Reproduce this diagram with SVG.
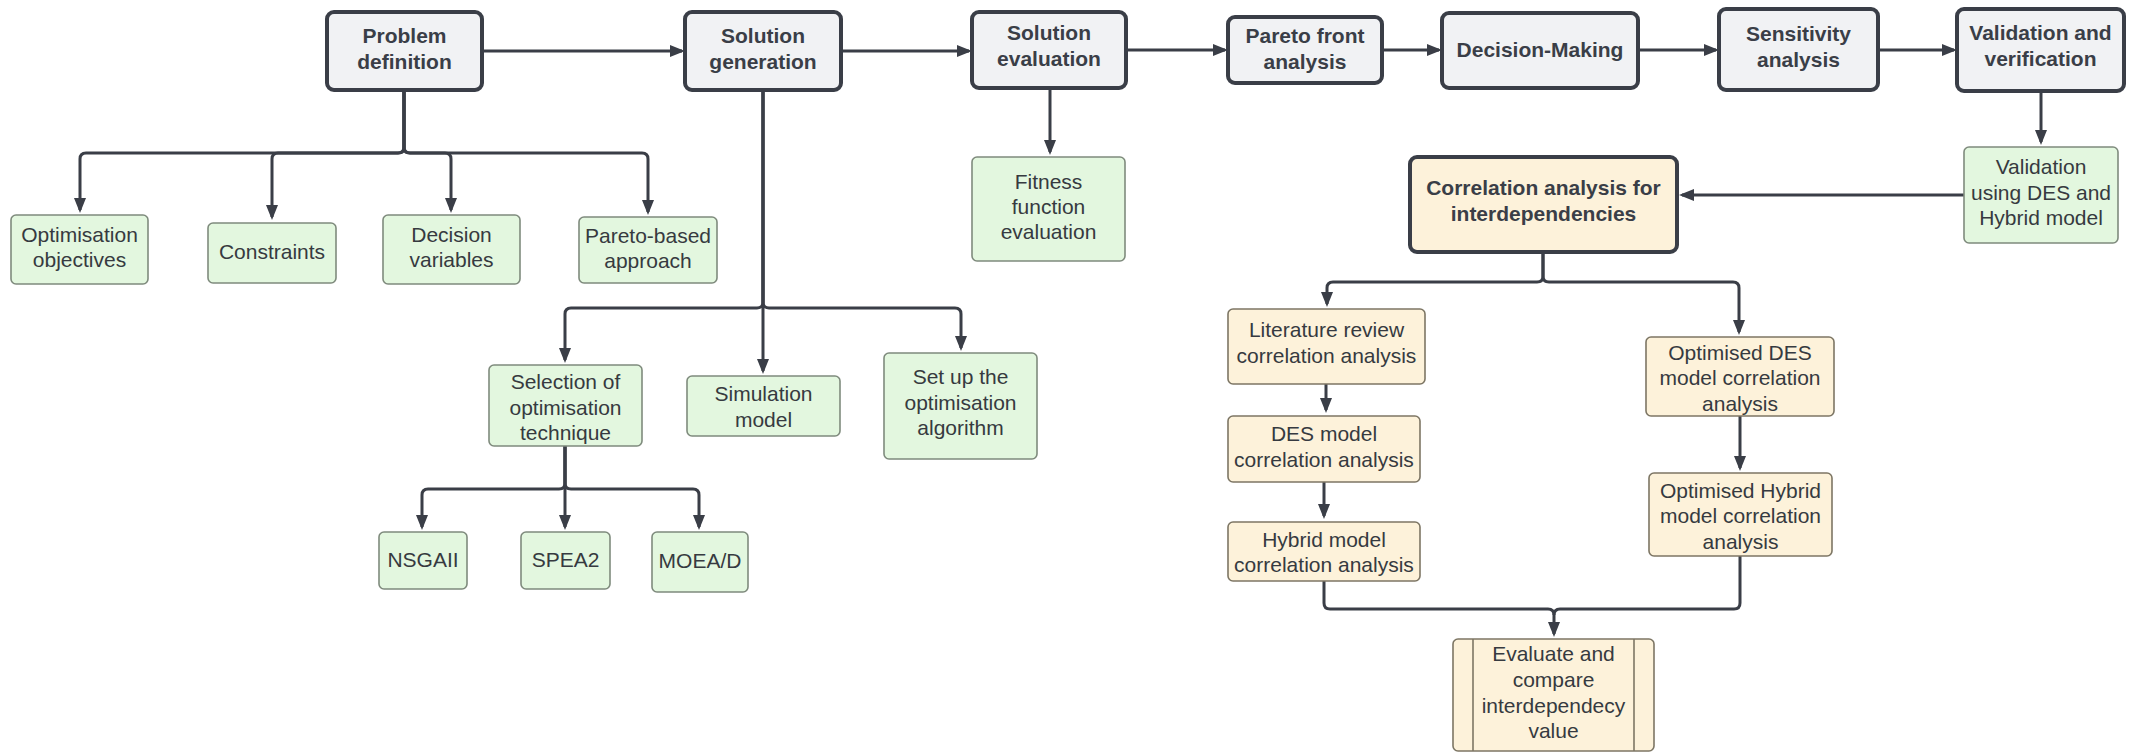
<svg xmlns="http://www.w3.org/2000/svg" width="2134" height="752" viewBox="0 0 2134 752">
  <defs>
    <marker id="arrow" viewBox="0 0 15 12" markerWidth="15" markerHeight="12" refX="12" refY="6" orient="auto" markerUnits="userSpaceOnUse">
      <path d="M0,0 L15,6 L0,12 z" fill="#3a3e47"/>
    </marker>
    <style>
      .stage rect { fill: #f1f2f4; stroke: #3a3e47; stroke-width: 4; }
      .green rect { fill: #e3f7df; stroke: #7f8b7d; stroke-width: 1.6; }
      .cream rect { fill: #fdf2da; stroke: #7d7664; stroke-width: 1.6; }
      .cream line { stroke: #7d7664; stroke-width: 1.6; }
      .key rect { fill: #fdf2da; stroke: #3a3e47; stroke-width: 4; }
      text { font-family: "Liberation Sans", Arial, sans-serif; font-size: 21px; fill: #363a40; text-anchor: middle; }
      .stage text, .key text { font-weight: bold; fill: #3a3e47; }
      .links path { fill: none; stroke: #3a3e47; stroke-width: 3; marker-end: url(#arrow); }
      .links path.plain { marker-end: none; }
    </style>
  </defs>
  <rect width="2134" height="752" fill="#ffffff"/>

  <!-- connectors -->
  <g class="links">
    <!-- main process chain -->
    <path d="M482,51 H682"/>
    <path d="M841,51 H969"/>
    <path d="M1126,50 H1225"/>
    <path d="M1382,50 H1439"/>
    <path d="M1638,50 H1716"/>
    <path d="M1878,50 H1954"/>

    <!-- problem definition branches -->
    <path d="M404,90 V147 Q404,153 398,153 H86 Q80,153 80,159 V210"/>
    <path d="M404,90 V147 Q404,153 398,153 H278 Q272,153 272,159 V217"/>
    <path d="M404,90 V147 Q404,153 410,153 H445 Q451,153 451,159 V210"/>
    <path d="M404,90 V147 Q404,153 410,153 H642 Q648,153 648,159 V212"/>

    <!-- solution generation branches -->
    <path d="M763,90 V302 Q763,308 757,308 H571 Q565,308 565,314 V360"/>
    <path d="M763,90 V371"/>
    <path d="M763,90 V302 Q763,308 769,308 H955 Q961,308 961,314 V348"/>

    <!-- optimisation technique branches -->
    <path d="M565,446 V483 Q565,489 559,489 H428 Q422,489 422,495 V527"/>
    <path d="M565,446 V527"/>
    <path d="M565,446 V483 Q565,489 571,489 H693 Q699,489 699,495 V527"/>

    <!-- solution evaluation -->
    <path d="M1050,88 V152"/>

    <!-- validation -->
    <path d="M2041,91 V142"/>
    <path d="M1964,195 H1682"/>

    <!-- correlation analysis branches -->
    <path d="M1543,252 V276 Q1543,282 1537,282 H1333 Q1327,282 1327,288 V304"/>
    <path d="M1543,252 V276 Q1543,282 1549,282 H1733 Q1739,282 1739,288 V332"/>
    <path d="M1326,384 V410"/>
    <path d="M1324,482 V516"/>
    <path d="M1740,416 V468"/>

    <!-- merge into evaluation -->
    <path class="plain" d="M1324,581 V603 Q1324,609 1330,609 H1548 Q1554,609 1554,615"/>
    <path d="M1740,556 V603 Q1740,609 1734,609 H1560 Q1554,609 1554,615 V634"/>
  </g>

  <!-- main process stages -->
  <g id="problem-definition" class="stage">
    <rect x="327" y="12" width="155" height="78" rx="7"/>
    <text x="404.5" y="43">Problem</text>
    <text x="404.5" y="69">definition</text>
  </g>
  <g id="solution-generation" class="stage">
    <rect x="685" y="12" width="156" height="78" rx="7"/>
    <text x="763" y="43">Solution</text>
    <text x="763" y="69">generation</text>
  </g>
  <g id="solution-evaluation" class="stage">
    <rect x="972" y="12" width="154" height="76" rx="7"/>
    <text x="1049" y="40">Solution</text>
    <text x="1049" y="66">evaluation</text>
  </g>
  <g id="pareto-front-analysis" class="stage">
    <rect x="1228" y="17" width="154" height="66" rx="7"/>
    <text x="1305" y="43">Pareto front</text>
    <text x="1305" y="69">analysis</text>
  </g>
  <g id="decision-making" class="stage">
    <rect x="1442" y="13" width="196" height="75" rx="7"/>
    <text x="1540" y="57">Decision-Making</text>
  </g>
  <g id="sensitivity-analysis" class="stage">
    <rect x="1719" y="9" width="159" height="81" rx="7"/>
    <text x="1798.5" y="41">Sensitivity</text>
    <text x="1798.5" y="67">analysis</text>
  </g>
  <g id="validation-verification" class="stage">
    <rect x="1957" y="9" width="167" height="82" rx="7"/>
    <text x="2040.5" y="40">Validation and</text>
    <text x="2040.5" y="66">verification</text>
  </g>

  <!-- problem definition items -->
  <g id="optimisation-objectives" class="green">
    <rect x="11" y="215" width="137" height="69" rx="5"/>
    <text x="79.5" y="242">Optimisation</text>
    <text x="79.5" y="267">objectives</text>
  </g>
  <g id="constraints" class="green">
    <rect x="208" y="223" width="128" height="60" rx="5"/>
    <text x="272" y="259">Constraints</text>
  </g>
  <g id="decision-variables" class="green">
    <rect x="383" y="215" width="137" height="69" rx="5"/>
    <text x="451.5" y="242">Decision</text>
    <text x="451.5" y="267">variables</text>
  </g>
  <g id="pareto-based-approach" class="green">
    <rect x="579" y="217" width="138" height="66" rx="5"/>
    <text x="648" y="243">Pareto-based</text>
    <text x="648" y="268">approach</text>
  </g>

  <!-- solution generation items -->
  <g id="selection-technique" class="green">
    <rect x="489" y="365" width="153" height="81" rx="5"/>
    <text x="565.5" y="389">Selection of</text>
    <text x="565.5" y="415">optimisation</text>
    <text x="565.5" y="440">technique</text>
  </g>
  <g id="simulation-model" class="green">
    <rect x="687" y="376" width="153" height="60" rx="5"/>
    <text x="763.5" y="401">Simulation</text>
    <text x="763.5" y="427">model</text>
  </g>
  <g id="setup-algorithm" class="green">
    <rect x="884" y="353" width="153" height="106" rx="5"/>
    <text x="960.5" y="384">Set up the</text>
    <text x="960.5" y="410">optimisation</text>
    <text x="960.5" y="435">algorithm</text>
  </g>
  <g id="nsgaii" class="green">
    <rect x="379" y="532" width="88" height="57" rx="5"/>
    <text x="423" y="567">NSGAII</text>
  </g>
  <g id="spea2" class="green">
    <rect x="521" y="532" width="89" height="57" rx="5"/>
    <text x="565.5" y="567">SPEA2</text>
  </g>
  <g id="moead" class="green">
    <rect x="652" y="532" width="96" height="60" rx="5"/>
    <text x="700" y="568">MOEA/D</text>
  </g>

  <!-- solution evaluation item -->
  <g id="fitness-evaluation" class="green">
    <rect x="972" y="157" width="153" height="104" rx="5"/>
    <text x="1048.5" y="189">Fitness</text>
    <text x="1048.5" y="214">function</text>
    <text x="1048.5" y="239">evaluation</text>
  </g>

  <!-- validation item -->
  <g id="validation-des-hybrid" class="green">
    <rect x="1964" y="147" width="154" height="96" rx="5"/>
    <text x="2041" y="174">Validation</text>
    <text x="2041" y="200">using DES and</text>
    <text x="2041" y="225">Hybrid model</text>
  </g>

  <!-- correlation analysis -->
  <g id="correlation-analysis" class="key">
    <rect x="1410" y="157" width="267" height="95" rx="7"/>
    <text x="1543.5" y="195">Correlation analysis for</text>
    <text x="1543.5" y="221">interdependencies</text>
  </g>
  <g id="literature-correlation" class="cream">
    <rect x="1228" y="309" width="197" height="75" rx="5"/>
    <text x="1326.5" y="337">Literature review</text>
    <text x="1326.5" y="363">correlation analysis</text>
  </g>
  <g id="des-correlation" class="cream">
    <rect x="1228" y="416" width="192" height="66" rx="5"/>
    <text x="1324" y="441">DES model</text>
    <text x="1324" y="467">correlation analysis</text>
  </g>
  <g id="hybrid-correlation" class="cream">
    <rect x="1228" y="522" width="192" height="59" rx="5"/>
    <text x="1324" y="547">Hybrid model</text>
    <text x="1324" y="572">correlation analysis</text>
  </g>
  <g id="optimised-des-correlation" class="cream">
    <rect x="1646" y="337" width="188" height="79" rx="5"/>
    <text x="1740" y="360">Optimised DES</text>
    <text x="1740" y="385">model correlation</text>
    <text x="1740" y="411">analysis</text>
  </g>
  <g id="optimised-hybrid-correlation" class="cream">
    <rect x="1649" y="473" width="183" height="83" rx="5"/>
    <text x="1740.5" y="498">Optimised Hybrid</text>
    <text x="1740.5" y="523">model correlation</text>
    <text x="1740.5" y="549">analysis</text>
  </g>
  <g id="evaluate-interdependency" class="cream">
    <rect x="1453" y="639" width="201" height="112" rx="5"/>
    <line x1="1473" y1="639" x2="1473" y2="751"/>
    <line x1="1634" y1="639" x2="1634" y2="751"/>
    <text x="1553.5" y="661">Evaluate and</text>
    <text x="1553.5" y="687">compare</text>
    <text x="1553.5" y="713">interdependecy</text>
    <text x="1553.5" y="738">value</text>
  </g>
</svg>
